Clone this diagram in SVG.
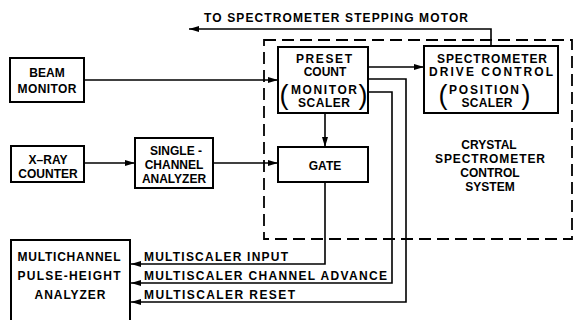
<svg xmlns="http://www.w3.org/2000/svg" width="574" height="320" viewBox="0 0 574 320">
<style>
  .box { fill: none; stroke: #000; stroke-width: 2; }
  .ln { fill: none; stroke: #000; stroke-width: 1.6; }
  .dash { fill: none; stroke: #000; stroke-width: 1.8; stroke-dasharray: 12 6; }
  text { font-family: "Liberation Sans", Arial, sans-serif; font-size: 12px; font-weight: bold; fill: #000; }
  .c { text-anchor: middle; }
  .par { font-weight: normal; font-size: 27px; text-anchor: middle; }
</style>
<defs>
  <marker id="ah" viewBox="0 0 10 6" refX="10" refY="3" markerWidth="10" markerHeight="6" markerUnits="userSpaceOnUse" orient="auto">
    <path d="M0,0 L10,3 L0,6 Z" fill="#000"/>
  </marker>
</defs>
<rect width="574" height="320" fill="#fff"/>

<g id="control-system">
  <rect class="dash" x="264" y="40" width="308" height="199"/>
  <text class="c" x="489" y="149">CRYSTAL</text>
  <text class="c" x="490" y="163" textLength="110" lengthAdjust="spacing">SPECTROMETER</text>
  <text class="c" x="490" y="177">CONTROL</text>
  <text class="c" x="490" y="191">SYSTEM</text>
</g>

<g id="connectors">
  <line class="ln" x1="84" y1="80" x2="278" y2="80" marker-end="url(#ah)"/>
  <line class="ln" x1="84" y1="163" x2="135" y2="163" marker-end="url(#ah)"/>
  <line class="ln" x1="213" y1="163" x2="278" y2="163" marker-end="url(#ah)"/>
  <line class="ln" x1="325" y1="113" x2="325" y2="147" marker-end="url(#ah)"/>
  <line class="ln" x1="368" y1="67" x2="424" y2="67" marker-end="url(#ah)"/>
  <polyline class="ln" points="491,46 491,29 189,29" marker-end="url(#ah)"/>
  <polyline class="ln" points="325,182 325,264 131,264" marker-end="url(#ah)"/>
  <polyline class="ln" points="368,92 392,92 392,283 131,283" marker-end="url(#ah)"/>
  <polyline class="ln" points="368,79 406,79 406,302 131,302" marker-end="url(#ah)"/>
  <text x="204" y="22" textLength="264" lengthAdjust="spacing">TO SPECTROMETER STEPPING MOTOR</text>
  <text x="144" y="261" textLength="144" lengthAdjust="spacing">MULTISCALER INPUT</text>
  <text x="144" y="280" textLength="243" lengthAdjust="spacing">MULTISCALER CHANNEL ADVANCE</text>
  <text x="144" y="299" textLength="151" lengthAdjust="spacing">MULTISCALER RESET</text>
</g>

<g id="beam-monitor">
  <rect class="box" x="10" y="58" width="74" height="44"/>
  <text class="c" x="47" y="77">BEAM</text>
  <text class="c" x="47" y="93" textLength="59" lengthAdjust="spacing">MONITOR</text>
</g>

<g id="xray-counter">
  <rect class="box" x="11" y="146" width="73" height="36"/>
  <text class="c" x="48" y="164">X–RAY</text>
  <text class="c" x="48" y="178">COUNTER</text>
</g>

<g id="single-channel-analyzer">
  <rect class="box" x="135" y="138" width="78" height="50"/>
  <text class="c" x="176" y="155">SINGLE -</text>
  <text class="c" x="174" y="169">CHANNEL</text>
  <text class="c" x="174" y="183">ANALYZER</text>
</g>

<g id="preset-count">
  <rect class="box" x="278" y="47" width="90" height="66"/>
  <text class="c" x="324" y="63" textLength="56" lengthAdjust="spacing">PRESET</text>
  <text class="c" x="325" y="76">COUNT</text>
  <text class="par" x="284" y="103.5">(</text>
  <text class="c" x="324" y="94" textLength="66" lengthAdjust="spacing">MONITOR</text>
  <text class="c" x="324" y="107" textLength="52" lengthAdjust="spacing">SCALER</text>
  <text class="par" x="363" y="103.5">)</text>
</g>

<g id="gate">
  <rect class="box" x="278" y="147" width="90" height="35"/>
  <text class="c" x="325" y="170">GATE</text>
</g>

<g id="spectrometer-drive-control">
  <rect class="box" x="424" y="46" width="134" height="67"/>
  <text class="c" x="492" y="63" textLength="110" lengthAdjust="spacing">SPECTROMETER</text>
  <text class="c" x="491" y="76" textLength="124" lengthAdjust="spacing">DRIVE   CONTROL</text>
  <text class="par" x="443" y="103.5">(</text>
  <text class="c" x="484" y="94" textLength="70" lengthAdjust="spacing">POSITION</text>
  <text class="c" x="487" y="107" textLength="51" lengthAdjust="spacing">SCALER</text>
  <text class="par" x="526" y="103.5">)</text>
</g>

<g id="multichannel-analyzer">
  <rect class="box" x="11" y="240" width="119" height="90"/>
  <text class="c" x="69" y="261" textLength="103" lengthAdjust="spacing">MULTICHANNEL</text>
  <text class="c" x="69" y="280" textLength="103" lengthAdjust="spacing">PULSE-HEIGHT</text>
  <text class="c" x="70" y="299" textLength="71" lengthAdjust="spacing">ANALYZER</text>
</g>
</svg>
